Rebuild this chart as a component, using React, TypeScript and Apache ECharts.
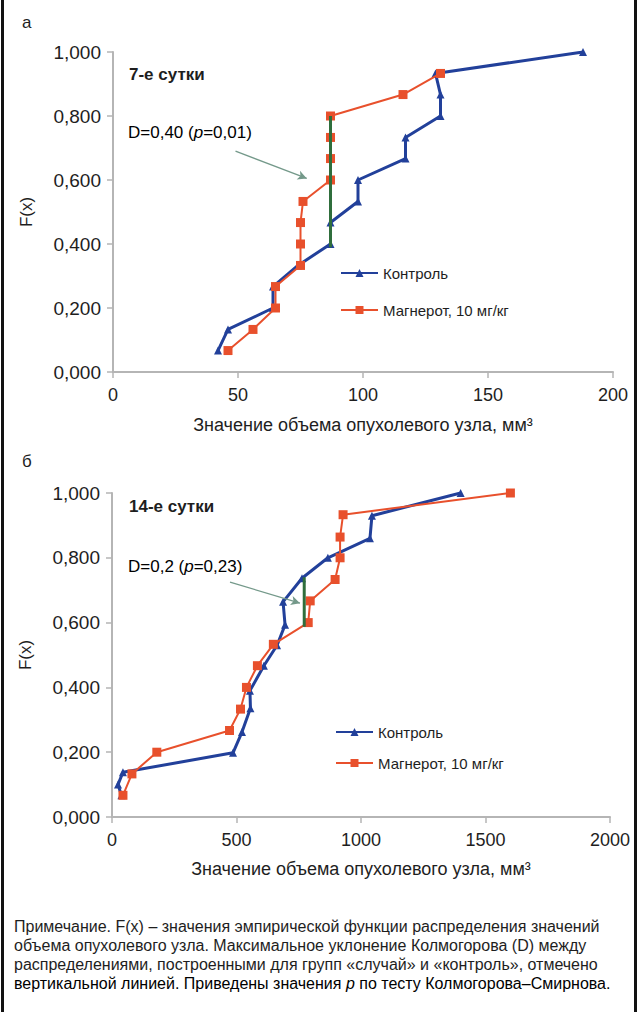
import React, { useEffect, useRef } from "react";
import * as echarts from "echarts";

// ---- Data ----
const seriesNames = ["Контроль", "Магнерот, 10 мг/кг"];

// Panel а: 7-е сутки (x: volume mm3, y: F(x))
const day7Control: [number, number][] = [
  [42, 0.067], [46, 0.133], [64, 0.2], [64, 0.267], [74, 0.333], [87, 0.4], [87, 0.467],
  [98, 0.533], [98, 0.6], [117, 0.667], [117, 0.733], [131, 0.8], [131, 0.867], [129, 0.933], [188, 1.0],
];
const day7Magnerot: [number, number][] = [
  [46, 0.067], [56, 0.133], [65, 0.2], [65, 0.267], [75, 0.333], [75, 0.4], [75, 0.467],
  [76, 0.533], [87, 0.6], [87, 0.667], [87, 0.733], [87, 0.8], [116, 0.867], [131, 0.933],
];
const day7D: [number, number][] = [[87, 0.8], [87, 0.39]];
const day7Arrow: [number, number][] = [[49, 0.69], [77.5, 0.605]];

// Panel б: 14-е сутки
const day14Control: [number, number][] = [
  [38, 0.067], [24, 0.1], [44, 0.138], [486, 0.198], [522, 0.262], [556, 0.336], [554, 0.39],
  [610, 0.467], [663, 0.53], [695, 0.593], [687, 0.664], [763, 0.737], [867, 0.8], [1036, 0.86],
  [1044, 0.93], [1400, 1.0],
];
const day14Magnerot: [number, number][] = [
  [44, 0.067], [80, 0.133], [180, 0.2], [472, 0.267], [516, 0.333], [540, 0.4], [584, 0.467],
  [648, 0.533], [788, 0.6], [796, 0.667], [896, 0.733], [916, 0.8], [916, 0.864], [928, 0.933],
  [1600, 1.0],
];
const day14D: [number, number][] = [[772, 0.74], [772, 0.587]];
const day14Arrow: [number, number][] = [[474, 0.725], [755, 0.66]];

const x7Max = 200;
const x7Interval = 50;
const x14Max = 2000;
const x14Interval = 500;

const xTitle = "Значение объема опухолевого узла, мм³";
const yTitle = "F(x)";

const noteLines = [
  "Примечание. F(x) – значения эмпирической функции распределения значений",
  "объема опухолевого узла. Максимальное уклонение Колмогорова (D) между",
  "распределениями, построенными для групп «случай» и «контроль», отмечено",
];
const noteLast = ["вертикальной линией. Приведены значения ", "p", " по тесту Колмогорова–Смирнова."];

const FONT = '"Liberation Sans", Arial, Helvetica, sans-serif';
const BLUE = "#22409a";
const RED = "#e8502c";
const GREEN = "#2f6e3c";
const ARROW = "#74998a";
const AXIS = "#b5b5b5";
const TXT = "#1e1e1e";

const fmtY = (v: number) => v.toFixed(3).replace(".", ",");
const fmtX = (v: number) => String(v);

function App() {
  const ref = useRef<HTMLDivElement>(null);
  useEffect(() => {
    if (!ref.current) return;
    const chart = echarts.init(ref.current, undefined, { renderer: "svg" });

    const yAxisBase = (gridIndex: number) => ({
      type: "value",
      gridIndex,
      min: 0,
      max: 1,
      interval: 0.2,
      name: yTitle,
      nameLocation: "middle",
      nameRotate: 90,
      nameGap: 78,
      nameTextStyle: { fontFamily: FONT, fontSize: 17, color: TXT },
      axisLine: { show: true, lineStyle: { color: AXIS, width: 2 } },
      axisTick: { show: true, length: 6, lineStyle: { color: AXIS, width: 1.5 } },
      axisLabel: { formatter: fmtY, fontFamily: FONT, fontSize: 19, color: TXT, margin: 12 },
      splitLine: { show: false },
    });
    const xAxisBase = (gridIndex: number, max: number, interval: number, gap: number, margin: number) => ({
      type: "value",
      gridIndex,
      min: 0,
      max,
      interval,
      name: xTitle,
      nameLocation: "middle",
      nameGap: gap,
      nameTextStyle: { fontFamily: FONT, fontSize: 18, color: TXT },
      axisLine: { show: true, lineStyle: { color: AXIS, width: 2 } },
      axisTick: { show: true, length: 6, lineStyle: { color: AXIS, width: 1.5 } },
      axisLabel: { formatter: fmtX, fontFamily: FONT, fontSize: 18, color: TXT, margin },
      splitLine: { show: false },
    });

    const ctrl = (data: [number, number][], idx: number) => ({
      name: seriesNames[0],
      type: "line",
      xAxisIndex: idx,
      yAxisIndex: idx,
      data,
      symbol: "triangle",
      symbolSize: 8,
      lineStyle: { color: BLUE, width: 3 },
      itemStyle: { color: BLUE },
      z: 2,
    });
    const mag = (data: [number, number][], idx: number) => ({
      name: seriesNames[1],
      type: "line",
      xAxisIndex: idx,
      yAxisIndex: idx,
      data,
      symbol: "rect",
      symbolSize: 9,
      lineStyle: { color: RED, width: 2 },
      itemStyle: { color: RED },
      z: 3,
    });
    const dline = (data: [number, number][], arrow: [number, number][], idx: number) => ({
      name: "D",
      type: "line",
      xAxisIndex: idx,
      yAxisIndex: idx,
      data,
      symbol: "none",
      lineStyle: { color: GREEN, width: 3 },
      z: 4,
      markLine: {
        silent: true,
        symbol: ["none", "arrow"],
        symbolSize: [7, 9],
        label: { show: false },
        lineStyle: { color: ARROW, width: 1.3, type: "solid" },
        data: [[{ coord: arrow[0] }, { coord: arrow[1] }]],
      },
    });

    const legendBase = (left: number, top: number, gap: number) => ({
      data: seriesNames,
      orient: "vertical",
      left,
      top,
      itemGap: gap,
      itemWidth: 37,
      itemHeight: 10,
      textStyle: { fontFamily: FONT, fontSize: 15, color: TXT, lineHeight: 18 },
      selectedMode: false,
    });

    const noteGraphic: any[] = noteLines.map((t, i) => ({
      type: "text",
      left: 14,
      top: 918 + i * 19.2,
      style: { text: t, font: `16px ${FONT}`, fill: TXT },
    }));
    noteGraphic.push({
      type: "text",
      left: 14,
      top: 918 + 3 * 19.2,
      style: {
        text: `{n|${noteLast[0]}}{i|${noteLast[1]}}{n|${noteLast[2]}}`,
        rich: {
          n: { fontFamily: FONT, fontSize: 16, color: TXT },
          i: { fontFamily: FONT, fontSize: 16, fontStyle: "italic", color: TXT },
        },
      },
    });

    const option: any = {
      animation: false,
      backgroundColor: "#ffffff",
      grid: [
        { left: 113, top: 52, width: 500, height: 320 },
        { left: 112, top: 493, width: 498, height: 324 },
      ],
      xAxis: [xAxisBase(0, x7Max, x7Interval, 44, 14), xAxisBase(1, x14Max, x14Interval, 43, 14)],
      yAxis: [yAxisBase(0), yAxisBase(1)],
      legend: [legendBase(335, 259, 19), legendBase(330, 718, 13)],
      series: [
        ctrl(day7Control, 0),
        mag(day7Magnerot, 0),
        dline(day7D, day7Arrow, 0),
        ctrl(day14Control, 1),
        mag(day14Magnerot, 1),
        dline(day14D, day14Arrow, 1),
      ],
      graphic: [
        { type: "line", shape: { x1: 2.5, y1: 0, x2: 2.5, y2: 1012 }, style: { stroke: "#111", lineWidth: 3 } },
        { type: "line", shape: { x1: 635.5, y1: 0, x2: 635.5, y2: 1012 }, style: { stroke: "#111", lineWidth: 3 } },
        { type: "text", left: 22, top: 14, style: { text: "а", font: `17px ${FONT}`, fill: TXT } },
        { type: "text", left: 22, top: 453, style: { text: "б", font: `17px ${FONT}`, fill: TXT } },
        { type: "text", left: 129, top: 66, style: { text: "7-е сутки", font: `bold 17px ${FONT}`, fill: TXT } },
        { type: "text", left: 129, top: 498, style: { text: "14-е сутки", font: `bold 17px ${FONT}`, fill: TXT } },
        {
          type: "text",
          left: 128,
          top: 124,
          style: {
            text: "{n|D=0,40 (}{i|p}{n|=0,01)}",
            rich: {
              n: { fontFamily: FONT, fontSize: 17, color: TXT },
              i: { fontFamily: FONT, fontSize: 17, fontStyle: "italic", color: TXT },
            },
          },
        },
        {
          type: "text",
          left: 128,
          top: 558,
          style: {
            text: "{n|D=0,2 (}{i|p}{n|=0,23)}",
            rich: {
              n: { fontFamily: FONT, fontSize: 17, color: TXT },
              i: { fontFamily: FONT, fontSize: 17, fontStyle: "italic", color: TXT },
            },
          },
        },
        ...noteGraphic,
      ],
    };
    chart.setOption(option);
    return () => chart.dispose();
  }, []);

  return (
    <div
      ref={ref}
      style={{ position: "absolute", left: 0, top: 0, width: 638, height: 1012, background: "#fff" }}
    />
  );
}

export default App;
